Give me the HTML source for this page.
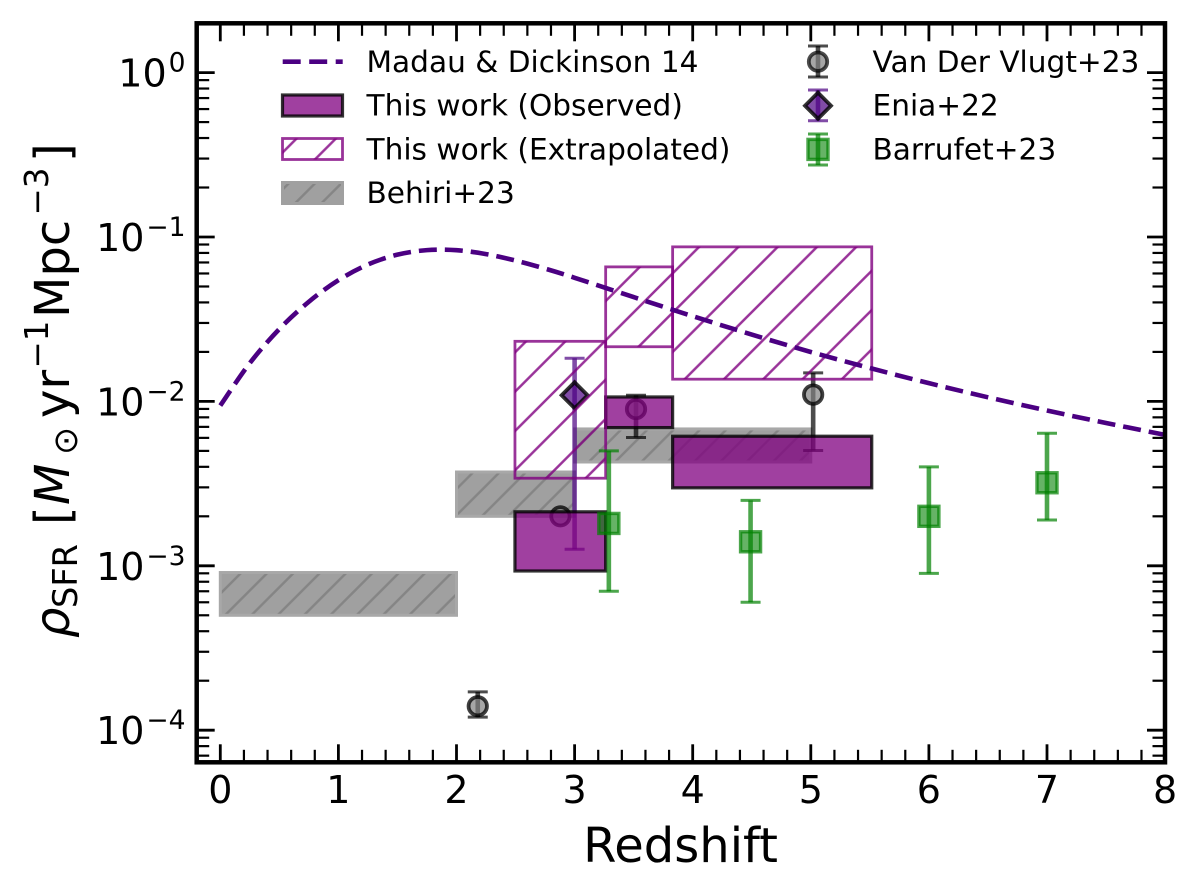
<!DOCTYPE html>
<html lang="en">
<head>
<meta charset="utf-8">
<title>Cosmic star formation rate density vs redshift</title>
<style>
html,body{margin:0;padding:0;background:#fff;}
svg{display:block;font-family:"DejaVu Sans","Liberation Sans",sans-serif;}
text{fill:#000;}
</style>
</head>
<body>
<svg id="chart" xmlns="http://www.w3.org/2000/svg" width="1200" height="871" viewBox="0 0 1200 871">
<defs>
<pattern id="hatch-purple" patternUnits="userSpaceOnUse" width="39.3" height="39.3" patternTransform="translate(2.8,0)">
<path d="M-3,3 L3,-3 M0,39.3 L39.3,0 M36.3,42.3 L42.3,36.3" stroke="#800080" stroke-opacity="0.8" stroke-width="2.5" fill="none"/>
</pattern>
<pattern id="hatch-grey" patternUnits="userSpaceOnUse" width="26.3" height="26.3" patternTransform="translate(25,0)">
<path d="M-3,3 L3,-3 M0,26.3 L26.3,0 M23.3,29.3 L29.3,23.3" stroke="#858585" stroke-width="2.5" fill="none"/>
</pattern>
</defs>
<rect x="0" y="0" width="1200" height="871" fill="#fff"/>
<g id="layer-behiri"></g>
<g id="layer-vlugt"></g>
<g id="layer-enia"></g>
<g id="layer-observed"></g>
<g id="layer-extrap"></g>
<g id="layer-barrufet"></g>
<g id="layer-madau"></g>
<g id="layer-ticks"></g>
<rect x="196.7" y="23.3" width="968.3" height="739" fill="none" stroke="#000" stroke-width="4.5"/>
<g id="layer-labels" font-size="38"></g>

<text x="680.5" y="862" font-size="48" text-anchor="middle">Redshift</text>

<g>
<text transform="translate(69,638) rotate(-90)" font-size="48" font-style="italic">ρ</text>
<text transform="translate(77,608) rotate(-90)" font-size="33.6">SFR</text>
<text transform="translate(69,525) rotate(-90)" font-size="48">[</text>
<text transform="translate(69,505) rotate(-90)" font-size="48" font-style="italic">M</text>
<text transform="translate(77,455) rotate(-90)" font-size="33.6">⊙</text>
<text transform="translate(69,418) rotate(-90)" font-size="48">yr</text>
<text transform="translate(48,368.5) rotate(-90)" font-size="32.5">−1</text>
<text transform="translate(69,318) rotate(-90)" font-size="48">Mpc</text>
<text transform="translate(48,215.5) rotate(-90)" font-size="32.5">−3</text>
<text transform="translate(69,162) rotate(-90)" font-size="48">]</text>
</g>

<g font-size="29.6">
<g>
<line x1="282.7" y1="61.7" x2="342.7" y2="61.7" stroke="#4b0082" stroke-width="4.6" stroke-dasharray="18 8.5"/>
<text x="366.5" y="72">Madau &amp; Dickinson 14</text>
</g>
<g>
<rect x="282.5" y="95" width="60" height="21" fill="#800080" fill-opacity="0.75" stroke="#000" stroke-opacity="0.8" stroke-width="3.2"/>
<text x="366.5" y="115.7">This work (Observed)</text>
</g>
<g>
<rect x="282.5" y="138.5" width="60" height="21" fill="url(#hatch-purple)" stroke="#800080" stroke-opacity="0.8" stroke-width="2.8"/>
<text x="366.5" y="159.5">This work (Extrapolated)</text>
</g>
<g>
<rect x="282.5" y="182.5" width="60" height="21" fill="#808080" fill-opacity="0.75"/>
<rect x="282.5" y="182.5" width="60" height="21" fill="url(#hatch-grey)" stroke="#a0a0a0" stroke-width="3"/>
<text x="366.5" y="203">Behiri+23</text>
</g>
<g>
<g stroke="#000" stroke-opacity="0.7">
<line x1="818" y1="46" x2="818" y2="77" stroke-width="4.6"/>
<line x1="808" y1="46" x2="828" y2="46" stroke-width="3"/>
<line x1="808" y1="77" x2="828" y2="77" stroke-width="3"/>
<circle cx="818" cy="61.7" r="9.2" fill="#808080" fill-opacity="0.7" stroke-width="3.8"/>
</g>
<text x="872.5" y="72">Van Der Vlugt+23</text>
</g>
<g>
<g stroke="#4b0082" stroke-opacity="0.7">
<line x1="818" y1="90" x2="818" y2="120.7" stroke-width="4.6"/>
<line x1="808" y1="90" x2="828" y2="90" stroke-width="3"/>
<line x1="808" y1="120.7" x2="828" y2="120.7" stroke-width="3"/>
</g>
<path d="M818,92.7 L831,105.7 L818,118.7 L805,105.7 Z" fill="#4b0082" fill-opacity="0.7" stroke="#000" stroke-opacity="0.8" stroke-width="3.8"/>
<text x="872.5" y="115.7">Enia+22</text>
</g>
<g>
<g stroke="#008000" stroke-opacity="0.7">
<line x1="818" y1="134" x2="818" y2="165" stroke-width="4.6"/>
<line x1="808" y1="134" x2="828" y2="134" stroke-width="3"/>
<line x1="808" y1="165" x2="828" y2="165" stroke-width="3"/>
<rect x="808" y="139.4" width="20" height="20" fill="#008000" fill-opacity="0.6" stroke-width="3.4"/>
</g>
<text x="872.5" y="159.5">Barrufet+23</text>
</g>
</g>
</svg>
<script>
// ---- chart data ----
const madauZ = [0,0.25,0.5,0.75,1,1.25,1.5,1.75,2,2.25,2.5,2.75,3,3.5,4,4.5,5,5.5,6,6.5,7,7.5,8];
const madauRho = [0.00943,0.0171,0.02755,0.0404,0.0546,0.068,0.0781,0.0832,0.0831,0.0787,0.0719,0.0642,0.0565,0.0431,0.033,0.0255,0.01998,0.01596,0.01291,0.01059,0.0088,0.00739,0.00626];

const observedZLo = [2.495,3.263,3.83];
const observedZHi = [3.263,3.83,5.516];
const observedLo = [0.00093,0.00693,0.00298];
const observedHi = [0.00213,0.01064,0.00614];

const extrapZLo = [2.495,3.263,3.83];
const extrapZHi = [3.263,3.83,5.516];
const extrapLo = [0.00341,0.0215,0.01365];
const extrapHi = [0.0232,0.0658,0.0871];

const behiriZLo = [0,2,3];
const behiriZHi = [2,3,5];
const behiriLo = [0.0005,0.002,0.00428];
const behiriHi = [0.00091,0.00372,0.0068];

const vlugtZ = [2.18,2.88,3.52,5.02];
const vlugtRho = [0.00014,0.002,0.00898,0.011];
const vlugtLo = [0.00012,null,0.00603,0.00503];
const vlugtHi = [0.000171,null,0.0109,0.0149];

const eniaZ = [3];
const eniaRho = [0.0109];
const eniaLo = [0.00126];
const eniaHi = [0.0183];

const barrufetZ = [3.29,4.49,6,7];
const barrufetRho = [0.00181,0.0014,0.002,0.0032];
const barrufetLo = [0.0007,0.0006,0.0009,0.0019];
const barrufetHi = [0.005,0.0025,0.004,0.0064];

const xTickLabels = ["0","1","2","3","4","5","6","7","8"];
const yTickExponents = [0,-1,-2,-3,-4];
const yTickLabels = ["0","−1","−2","−3","−4"];

// ---- axis functions ----
function xAxis(z){ return 220.3 + 118.1 * z; }
function yAxis(v){ return 72.6 - 164.4 * Math.log10(v); }

const NS = "http://www.w3.org/2000/svg";
function mk(tag, parent, props){
  const el = document.createElementNS(NS, tag);
  for (const k in props) el.setAttribute(k, props[k]);
  parent.appendChild(el);
  return el;
}
function layer(id){ return document.getElementById(id); }

// ---- ticks ----
const ticks = layer("layer-ticks");
const xTop = 23.3, xBottom = 762.3, yLeft = 196.7, yRight = 1165;
function tickPair(x1,y1,x2,y2,w,name){
  const t = mk("line", ticks, {x1:x1,y1:y1,x2:x2,y2:y2,stroke:"#000","stroke-width":w});
  
  
}
for (let i = 0; i <= 40; i++) {
  const z = i * 0.2;
  const major = i % 5 === 0;
  const len = major ? 18 : 12.5;
  const w = major ? 2.8 : 2.2;
  const x = xAxis(z);
  tickPair(x, xBottom, x, xBottom - len, w, "x-tick-bottom");
  tickPair(x, xTop, x, xTop + len, w, "x-tick-top");
}
for (let e = -5; e <= 0; e++) {
  for (let m = 1; m <= 9; m++) {
    const v = m * Math.pow(10, e);
    const y = yAxis(v);
    if (y < xTop + 1 || y > xBottom - 1) continue;
    const major = m === 1;
    const len = major ? 18 : 12.5;
    const w = major ? 2.8 : 2.2;
    tickPair(yLeft, y, yLeft + len, y, w, "y-tick-left");
    tickPair(yRight, y, yRight - len, y, w, "y-tick-right");
  }
}

// ---- tick labels ----
const labels = layer("layer-labels");
xTickLabels.forEach(function(label){
  const t = mk("text", labels, {x:xAxis(Number(label)), y:803, "text-anchor":"middle"});
  
  
  t.textContent = label;
});
yTickExponents.forEach(function(exp, i){
  const t = mk("text", labels, {x:185.5, y:yAxis(Math.pow(10, exp)) + 14, "text-anchor":"end"});
  
  
  t.appendChild(document.createTextNode("10"));
  const s = mk("tspan", t, {dy:-15, "font-size":26.5, dx:2});
  s.textContent = yTickLabels[i];
});

// ---- rectangles ----
function box(parent, i, zLo, zHi, lo, hi, kind){
  const x = xAxis(zLo[i]), w = xAxis(zHi[i]) - x;
  const y = yAxis(hi[i]), h = yAxis(lo[i]) - y;
  const g = mk("g", parent, {});
  if (kind === "observed") {
    
    
    mk("rect", g, {x:x,y:y,width:w,height:h,fill:"#800080","fill-opacity":0.75,stroke:"#000","stroke-opacity":0.8,"stroke-width":3.2});
  } else if (kind === "extrap") {
    
    
    mk("rect", g, {x:x,y:y,width:w,height:h,fill:"url(#hatch-purple)",stroke:"#800080","stroke-opacity":0.8,"stroke-width":2.8});
  } else {
    
    
    mk("rect", g, {x:x,y:y,width:w,height:h,fill:"#808080","fill-opacity":0.75});
    mk("rect", g, {x:x,y:y,width:w,height:h,fill:"url(#hatch-grey)",stroke:"#a8a8a8","stroke-width":3});
  }
}
behiriZLo.forEach(function(_, i){ box(layer("layer-behiri"), i, behiriZLo, behiriZHi, behiriLo, behiriHi, "behiri"); });
observedZLo.forEach(function(_, i){ box(layer("layer-observed"), i, observedZLo, observedZHi, observedLo, observedHi, "observed"); });
extrapZLo.forEach(function(_, i){ box(layer("layer-extrap"), i, extrapZLo, extrapZHi, extrapLo, extrapHi, "extrap"); });

// ---- points with error bars ----
function errorBar(g, x, lo, hi, color){
  if (lo === null || hi === null) return;
  const yl = yAxis(lo), yh = yAxis(hi);
  mk("line", g, {x1:x,y1:yl,x2:x,y2:yh,stroke:color,"stroke-opacity":0.7,"stroke-width":4.6});
  mk("line", g, {x1:x-10,y1:yl,x2:x+10,y2:yl,stroke:color,"stroke-opacity":0.7,"stroke-width":3});
  mk("line", g, {x1:x-10,y1:yh,x2:x+10,y2:yh,stroke:color,"stroke-opacity":0.7,"stroke-width":3});
}
vlugtZ.forEach(function(z, i){
  const g = mk("g", layer("layer-vlugt"), {});
  
  
  const x = xAxis(z);
  errorBar(g, x, vlugtLo[i], vlugtHi[i], "#000");
  mk("circle", g, {cx:x,cy:yAxis(vlugtRho[i]),r:9.2,fill:"#808080","fill-opacity":0.7,stroke:"#000","stroke-opacity":0.75,"stroke-width":3.8});
});
eniaZ.forEach(function(z, i){
  const g = mk("g", layer("layer-enia"), {});
  
  
  const x = xAxis(z), y = yAxis(eniaRho[i]), d = 13;
  errorBar(g, x, eniaLo[i], eniaHi[i], "#4b0082");
  mk("path", g, {d:"M"+x+","+(y-d)+" L"+(x+d)+","+y+" L"+x+","+(y+d)+" L"+(x-d)+","+y+" Z",fill:"#4b0082","fill-opacity":0.7,stroke:"#000","stroke-opacity":0.8,"stroke-width":3.8});
});
barrufetZ.forEach(function(z, i){
  const g = mk("g", layer("layer-barrufet"), {});
  
  
  const x = xAxis(z), y = yAxis(barrufetRho[i]);
  errorBar(g, x, barrufetLo[i], barrufetHi[i], "#008000");
  mk("rect", g, {x:x-10,y:y-10,width:20,height:20,fill:"#008000","fill-opacity":0.6,stroke:"#008000","stroke-opacity":0.7,"stroke-width":3.4});
});

// ---- Madau & Dickinson curve (Catmull-Rom through the read values) ----
const pts = madauZ.map(function(z, i){ return [xAxis(z), yAxis(madauRho[i])]; });
let d = "M" + pts[0][0] + "," + pts[0][1];
for (let i = 0; i < pts.length - 1; i++) {
  const p0 = pts[Math.max(i - 1, 0)], p1 = pts[i], p2 = pts[i + 1], p3 = pts[Math.min(i + 2, pts.length - 1)];
  d += " C" + (p1[0] + (p2[0] - p0[0]) / 6) + "," + (p1[1] + (p2[1] - p0[1]) / 6) + " " +
       (p2[0] - (p3[0] - p1[0]) / 6) + "," + (p2[1] - (p3[1] - p1[1]) / 6) + " " + p2[0] + "," + p2[1];
}
const curve = mk("path", layer("layer-madau"), {d:d,fill:"none",stroke:"#4b0082","stroke-width":4.6,"stroke-dasharray":"18 8"});


</script>
</body>
</html>
